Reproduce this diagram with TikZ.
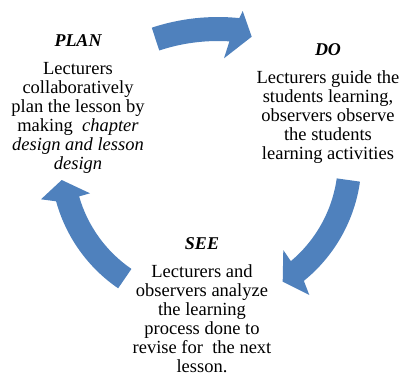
\documentclass[tikz,border=0pt]{standalone}
\usepackage{fontspec}
\setmainfont{Liberation Serif}
\usetikzlibrary{calc}
\definecolor{cycblue}{RGB}{79,129,189}
\newcommand{\cyclines}[1]{\begin{tabular}[t]{@{}c@{}}#1\end{tabular}}
\begin{document}
\begin{tikzpicture}[x=1pt,y=-1pt,
  arrowshape/.style={fill=cycblue,draw=none},
  heading/.style={font=\fontsize{18}{19}\selectfont\bfseries\itshape, anchor=base, inner sep=0pt},
  bodytext/.style={font=\fontsize{18.5}{19}\selectfont, anchor=base, inner sep=0pt}]
\useasboundingbox (0,0) rectangle (402,373);
\coordinate (c) at (206,160);
\coordinate (c1) at (218,228);
% arrow PLAN -> DO
\fill[arrowshape] ($(c1)+(251.7:211)$) arc[start angle=251.7, end angle=275.8, radius=211]
  -- (242.7,11) -- (251.7,36.7) -- (224,58.3)
  -- ($(c1)+(273.5:187)$) arc[start angle=273.5, end angle=251.7, radius=187] -- cycle;
% arrow DO -> SEE
\fill[arrowshape] ($(c)+(8:155.5)$) arc[start angle=8, end angle=51, radius=155.5]
  -- (309.3,295) -- (282.7,281.7) -- (283.3,250)
  -- ($(c)+(50:132)$) arc[start angle=50, end angle=8, radius=132] -- cycle;
% arrow SEE -> PLAN
\fill[arrowshape] ($(c)+(124.4:155.5)$) arc[start angle=124.4, end angle=164.6, radius=155.5]
  -- (41,199.3) -- (61.7,180) -- (90,193.3)
  -- ($(c)+(164:132)$) arc[start angle=164, end angle=124.4, radius=132] -- cycle;
% texts
\node[heading] (planh) at (78,46) {PLAN};
\node[bodytext] (planb) at (78,74.5) {\cyclines{Lecturers\\collaboratively\\plan the lesson by\\making\ \ \textit{chapter}\\\textit{design and lesson}\\\textit{design}}};
\node[heading] (doh) at (328,55) {DO};
\node[bodytext] (dob) at (328,83.5) {\cyclines{Lecturers guide the\\students learning,\\observers observe\\the students\\learning activities}};
\node[heading] (seeh) at (202,249.5) {SEE};
\node[bodytext] (seeb) at (202,277) {\cyclines{Lecturers and\\observers analyze\\the learning\\process done to\\revise for\ \ the next\\lesson.}};
\end{tikzpicture}
\end{document}
